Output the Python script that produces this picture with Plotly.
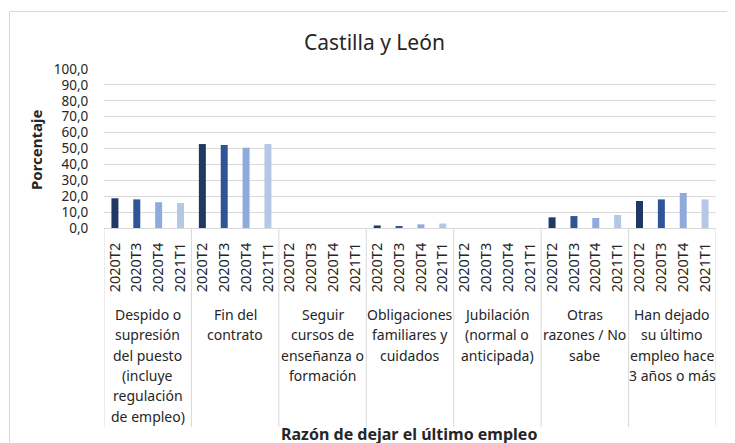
import plotly.graph_objects as go

groups = [
    ["Despido o", "supresión", "del puesto", "(incluye", "regulación", "de empleo)"],
    ["Fin del", "contrato"],
    ["Seguir", "cursos de", "enseñanza o", "formación"],
    ["Obligaciones", "familiares y", "cuidados"],
    ["Jubilación", "(normal o", "anticipada)"],
    ["Otras", "razones / No", "sabe"],
    ["Han dejado", "su último", "empleo hace", "3 años o más"],
]
quarters = ["2020T2", "2020T3", "2020T4", "2021T1"]
values = {
    "2020T2": [18.7, 52.8, 0.0, 1.6, 0.0, 6.7, 17.0],
    "2020T3": [18.0, 52.2, 0.0, 1.1, 0.0, 7.5, 18.0],
    "2020T4": [16.2, 50.5, 0.0, 2.3, 0.0, 6.3, 22.0],
    "2021T1": [15.7, 52.8, 0.0, 2.8, 0.0, 8.2, 18.0],
}
colors = ["#203864", "#2F5597", "#8FAADC", "#B4C7E7"]
yticks = [0, 10, 20, 30, 40, 50, 60, 70, 80, 90, 100]

FONT = "Noto Sans"
TXT = "#262626"
GRID = "#D9D9D9"

OFF = 8  # page body margin
W, H = 735 - OFF, 443 - OFF
L, R, T, B = 104 - OFF, 716 - OFF, 69 - OFF, 228 - OFF  # plot area in figure px
pw, ph = R - L, B - T

def py(ypx):
    return (B - (ypx - OFF)) / ph

def px(xpx):
    return ((xpx - OFF) - L) / pw

fig = go.Figure()
nq = len(quarters)
for qi, q in enumerate(quarters):
    fig.add_trace(go.Bar(
        x=[g * nq + qi for g in range(len(groups))],
        y=values[q],
        name=q,
        marker=dict(color=colors[qi], line=dict(width=0)),
        width=0.32,
        showlegend=False,
        hoverinfo="x+y",
    ))

tickvals = [g * nq + qi for g in range(len(groups)) for qi in range(nq)]
ticktext = [q for g in range(len(groups)) for q in quarters]

shapes = []
for g in range(len(groups) + 1):
    shapes.append(dict(type="line", xref="x", yref="paper",
                       x0=g * nq - 0.5, x1=g * nq - 0.5,
                       y0=0, y1=py(427), line=dict(color=GRID, width=1)))
shapes.append(dict(type="rect", xref="paper", yref="paper",
                   x0=px(9.5), x1=px(760), y0=py(11.5), y1=py(480),
                   line=dict(color=GRID, width=1), fillcolor="rgba(0,0,0,0)",
                   layer="below"))

annotations = []
line_y = [314, 334.5, 355, 375.5, 396, 416.5]
for g, lines in enumerate(groups):
    for li, t in enumerate(lines):
        annotations.append(dict(
            x=g * nq + (nq - 1) / 2, xref="x", y=py(line_y[li]), yref="paper",
            text=t, showarrow=False, xanchor="center", yanchor="middle",
            font=dict(family=FONT, size=14, color=TXT)))

annotations.append(dict(x=px(374), y=py(42), xref="paper", yref="paper",
                        text="Castilla y León", showarrow=False,
                        xanchor="center", yanchor="middle",
                        font=dict(family=FONT, size=21, color=TXT)))
annotations.append(dict(x=px(36), y=py(150), xref="paper", yref="paper",
                        text="<b>Porcentaje</b>", showarrow=False, textangle=-90,
                        xanchor="center", yanchor="middle",
                        font=dict(family=FONT, size=15, color=TXT)))
annotations.append(dict(x=px(409), y=py(434), xref="paper", yref="paper",
                        text="<b>Razón de dejar el último empleo</b>", showarrow=False,
                        xanchor="center", yanchor="middle",
                        font=dict(family=FONT, size=16, color=TXT)))

fig.update_layout(
    width=W, height=H,
    margin=dict(l=L, r=W - R, t=T, b=H - B, autoexpand=False),
    paper_bgcolor="white", plot_bgcolor="white",
    barmode="overlay",
    separators=",.",
    font=dict(family=FONT, color=TXT),
    shapes=shapes,
    annotations=annotations,
    xaxis=dict(range=[-0.5, len(groups) * nq - 0.5], tickvals=tickvals, ticktext=ticktext,
               tickangle=-90, tickfont=dict(family=FONT, size=14.5, color=TXT),
               showgrid=False, zeroline=False, showline=False, ticks="outside", ticklen=8,
               tickcolor="rgba(0,0,0,0)", fixedrange=True),
    yaxis=dict(range=[0, 100], tickvals=yticks, tickformat=".1f",
               tickfont=dict(family=FONT, size=13.5, color=TXT),
               showgrid=True, gridcolor=GRID, gridwidth=1,
               zeroline=True, zerolinecolor=GRID, zerolinewidth=1,
               showline=False, ticks="outside", ticklen=12, tickcolor="rgba(0,0,0,0)",
               fixedrange=True),
)

fig.write_html("out.html")
